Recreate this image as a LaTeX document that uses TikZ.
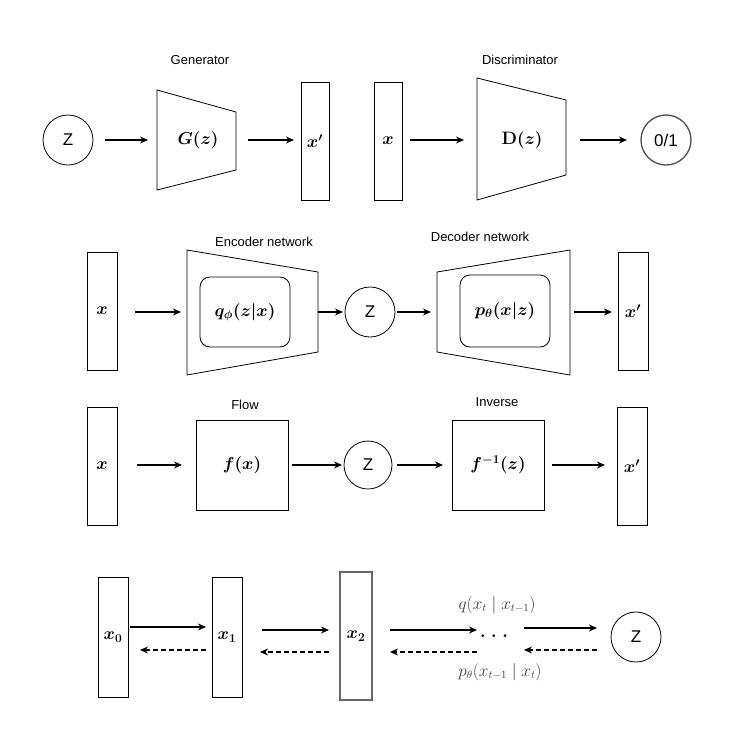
\documentclass[tikz,border=0pt]{standalone}
\usepackage{fontspec}
\setmainfont{Liberation Sans}
\newfontfamily\serifrm{Latin Modern Roman}
\usetikzlibrary{arrows.meta}
\begin{document}
\begin{tikzpicture}[x=1pt,y=-1pt,
  box/.style={draw,thick,fill=white},
  circ/.style={draw,thick,circle,minimum size=50pt,inner sep=0pt,font=\fontsize{17}{19}\selectfont},
  arr/.style={-{Stealth[length=8pt,width=7pt]},line width=1.8pt},
  darr/.style={-{Stealth[length=8pt,width=7pt]},line width=1.8pt,dash pattern=on 5pt off 3pt},
  lab/.style={font=\fontsize{13}{15}\selectfont},
  m/.style={font=\fontsize{18}{20}\selectfont\boldmath}]
\useasboundingbox (0,0) rectangle (740,740);
% Row 1
\node[circ] (z1) at (68,140) {Z};
\draw[thick] (157,90) -- (236,112) -- (236,170) -- (157,190) -- cycle;
\node[m] (g) at (198,140) {$G(z)$};
\node[box,minimum width=28pt,minimum height=118pt] (xp1) at (315,141) {};
\node[m] at (xp1) {$x'$};
\node[box,minimum width=28pt,minimum height=118pt] (x1) at (388,141) {};
\node[m] at (x1) {$x$};
\draw[thick] (477,78) -- (566,100) -- (566,175) -- (477,200) -- cycle;
\node[m] (d) at (522,140) {{\serifrm\bfseries D}$(z)$};
\node[circ,draw=black!70,line width=1.3pt] (o1) at (666,140) {0/1};
\node[lab] (gl) at (200,60) {Generator};
\node[lab] (dl) at (520,60) {Discriminator};
\coordinate (gL) at (148,140); \coordinate (gR) at (248,140);
\coordinate (xpL) at (294,140); \coordinate (xR) at (410,140);
\coordinate (dL) at (464,140); \coordinate (dR) at (580,140);
\coordinate (oL) at (627,140); \coordinate (zR) at (105,140);
\draw[arr] (zR) -- (gL);
\draw[arr] (gR) -- (xpL);
\draw[arr] (xR) -- (dL);
\draw[arr] (dR) -- (oL);
% Row 2
\node[box,minimum width=30pt,minimum height=118pt] (x2) at (102,311) {};
\node[m] at (x2) {$x$};
\draw[thick] (187,250) -- (318,272) -- (318,352) -- (187,375) -- cycle;
\node[draw,thick,rounded corners=10pt,minimum width=90pt,minimum height=70pt] (q) at (245,312) {};
\node[m] at (q) {$q_\phi(z|x)$};
\node[circ] (z2) at (370,312) {Z};
\draw[thick] (437,272) -- (570,250) -- (570,375) -- (437,352) -- cycle;
\node[draw,thick,rounded corners=10pt,minimum width=90pt,minimum height=72pt] (p) at (505,311) {};
\node[m] at (p) {$p_\theta(x|z)$};
\node[box,minimum width=30pt,minimum height=118pt] (xp2) at (633,311) {};
\node[m] at (xp2) {$x'$};
\node[lab] (el) at (264,242) {Encoder network};
\node[lab] (dnl) at (480,237) {Decoder network};
\coordinate (x2R) at (135,312); \coordinate (eL) at (181,312);
\coordinate (eR) at (318,312); \coordinate (z2L) at (343,312);
\coordinate (z2R) at (397,312); \coordinate (dnL) at (431,312);
\coordinate (dnR) at (574,312); \coordinate (xp2L) at (612,312);
\draw[arr] (x2R) -- (eL);
\draw[arr] (eR) -- (z2L);
\draw[arr] (z2R) -- (dnL);
\draw[arr] (dnR) -- (xp2L);
% Row 3
\node[box,minimum width=30pt,minimum height=118pt] (x3) at (102,466) {};
\node[m] at (x3) {$x$};
\node[box,minimum width=92pt,minimum height=90pt] (f) at (242,465) {};
\node[m] at (f) {$f(x)$};
\node[circ,minimum size=48pt] (z3) at (368,465) {Z};
\node[box,minimum width=92pt,minimum height=90pt] (fi) at (498,465) {};
\node[m] at (fi) {$f^{-1}(z)$};
\node[box,minimum width=30pt,minimum height=118pt] (xp3) at (632,466) {};
\node[m] at (xp3) {$x'$};
\node[lab] (fl) at (245,405) {Flow};
\node[lab] (il) at (497,402) {Inverse};
\coordinate (r1) at (137,465); \coordinate (r2) at (182,465);
\coordinate (r3) at (292,465); \coordinate (r4) at (342,465);
\coordinate (r5) at (397,465); \coordinate (r6) at (443,465);
\coordinate (r7) at (552,465); \coordinate (r8) at (605,465);
\draw[arr] (r1) -- (r2);
\draw[arr] (r3) -- (r4);
\draw[arr] (r5) -- (r6);
\draw[arr] (r7) -- (r8);
% Row 4
\node[box,minimum width=30pt,minimum height=120pt] (a0) at (113,637) {};
\node[m] at (a0) {$x_0$};
\node[box,minimum width=30pt,minimum height=120pt] (a1) at (227,637) {};
\node[m] at (a1) {$x_1$};
\node[draw=black!60,line width=2pt,fill=white,minimum width=32pt,minimum height=128pt] (a2) at (356,636) {};
\node[m] at (a2) {$x_2$};
\node[circ] (z4) at (636,637) {Z};
\node[font=\fontsize{16}{18}\selectfont,text=black!75] (qt) at (497,605) {$q(x_t\mid x_{t-1})$};
\node[font=\fontsize{18}{20}\selectfont\boldmath] (dots) at (494,636) {$.\;.\;.$};
\node[font=\fontsize{16}{18}\selectfont,text=black!75] (pt) at (500,672) {$p_\theta(x_{t-1}\mid x_t)$};
\coordinate (s1) at (130,627); \coordinate (e1) at (206,627);
\coordinate (s2) at (262,630); \coordinate (e2) at (329,630);
\coordinate (s3) at (390,630); \coordinate (e3) at (477,630);
\coordinate (s4) at (524,628); \coordinate (e4) at (597,628);
\draw[arr] (s1) -- (e1);
\draw[arr] (s2) -- (e2);
\draw[arr] (s3) -- (e3);
\draw[arr] (s4) -- (e4);
\coordinate (t1) at (206,650); \coordinate (u1) at (140,650);
\coordinate (t2) at (329,652); \coordinate (u2) at (260,652);
\coordinate (t3) at (477,652); \coordinate (u3) at (390,652);
\coordinate (t4) at (597,650); \coordinate (u4) at (524,650);
\draw[darr] (t1) -- (u1);
\draw[darr] (t2) -- (u2);
\draw[darr] (t3) -- (u3);
\draw[darr] (t4) -- (u4);
\end{tikzpicture}
\end{document}
